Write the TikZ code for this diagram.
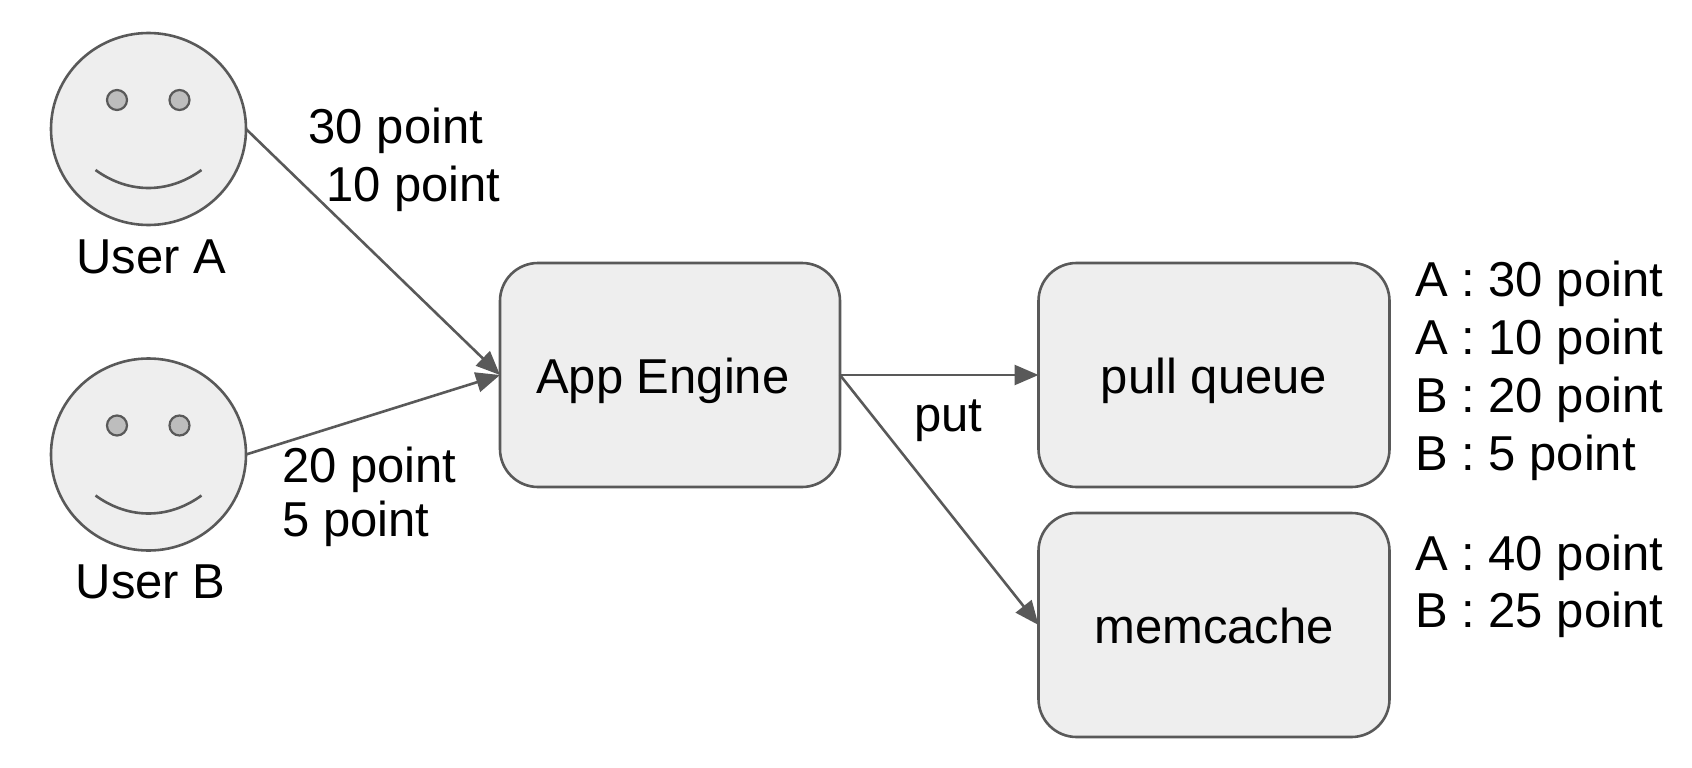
\documentclass[tikz,border=0pt]{standalone}
\usepackage{fontspec}
\setmainfont{Liberation Sans}
\usetikzlibrary{arrows.meta,shapes.geometric}
\definecolor{edgegray}{HTML}{595959}
\definecolor{fillgray}{HTML}{EEEEEE}
\definecolor{eyegray}{HTML}{BDBDBD}
\tikzset{
  face/.style={ellipse,draw=edgegray,fill=fillgray,line width=2.6pt,minimum width=195pt,minimum height=192pt,inner sep=0pt,outer sep=0pt},
  eye/.style={circle,draw=edgegray,fill=eyegray,line width=2.2pt,minimum size=20pt,inner sep=0pt},
  smile/.style={draw=edgegray,line width=2.6pt},
  procbox/.style={rectangle,rounded corners=38pt,draw=edgegray,fill=fillgray,line width=2.6pt,inner sep=0pt,outer sep=0pt},
  conn/.style={draw=edgegray,line width=2.6pt,-{Triangle[length=24pt,width=20pt]}},
  txt/.style={inner sep=0pt,anchor=base west,font=\fontsize{49pt}{58pt}\selectfont},
  ctxt/.style={inner sep=0pt,anchor=base,font=\fontsize{49pt}{58pt}\selectfont},
}
\begin{document}
\begin{tikzpicture}[x=1pt,y=-1pt]
\useasboundingbox (0,0) rectangle (1692,768);
\node[face] (facea) at (148.5,129) {};
\node[face] (faceb) at (148.5,454.5) {};
\node[eye] (eyea1) at (117,100) {};
\node[eye] (eyea2) at (179.5,100) {};
\node[eye] (eyeb1) at (117,425.5) {};
\node[eye] (eyeb2) at (179.5,425.5) {};
\draw[smile] ([shift={(-53,41)}]facea.center) .. controls ([shift={(-20,65)}]facea.center) and ([shift={(20,65)}]facea.center) .. ([shift={(53,41)}]facea.center);
\draw[smile] ([shift={(-53,41)}]faceb.center) .. controls ([shift={(-20,65)}]faceb.center) and ([shift={(20,65)}]faceb.center) .. ([shift={(53,41)}]faceb.center);
\node[procbox,minimum width=340pt,minimum height=224pt] (app) at (670,375) {};
\node[procbox,minimum width=351pt,minimum height=224pt] (pull) at (1214,375) {};
\node[procbox,minimum width=351pt,minimum height=224pt] (mem) at (1214,625) {};
\draw[conn] (facea.east) -- (app.west);
\draw[conn] (faceb.east) -- (app.west);
\draw[conn] (app.east) -- (pull.west);
\draw[conn] (app.east) -- (mem.west);
\node[ctxt] (ua) at (151,273.5) {User A};
\node[ctxt] (ub) at (150.5,598.5) {User B};
\node[txt] (p30) at (308.5,143) {30 point};
\node[txt] (p10) at (326,201) {10 point};
\node[txt] (p20) at (282,482) {20 point};
\node[txt] (p5) at (282,536) {5 point};
\node[txt] (tapp) at (536,393) {App Engine};
\node[ctxt] (tpull) at (1214,393) {pull queue};
\node[ctxt] (tmem) at (1214,643) {memcache};
\node[txt] (tput) at (914,431) {put};
\node[txt] (q1) at (1415,296) {A : 30 point};
\node[txt] (q2) at (1415,354) {A : 10 point};
\node[txt] (q3) at (1415,412) {B : 20 point};
\node[txt] (q4) at (1415,470) {B : 5 point};
\node[txt] (m1) at (1415,570) {A : 40 point};
\node[txt] (m2) at (1415,627) {B : 25 point};
\end{tikzpicture}
\end{document}
